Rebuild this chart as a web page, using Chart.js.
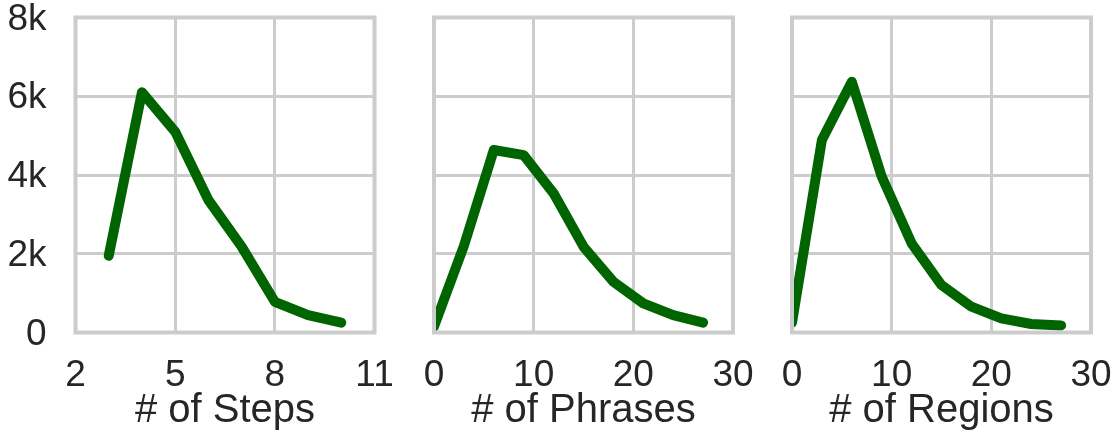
<!DOCTYPE html>
<html>
<head>
<meta charset="utf-8">
<script src="https://cdn.jsdelivr.net/npm/chart.js@4.4.1/dist/chart.umd.min.js"></script>
<style>
  html, body { margin: 0; padding: 0; background: #ffffff; }
  #wrap { position: relative; width: 1118px; height: 445px; overflow: hidden; }
  .panel { position: absolute; top: 0; height: 445px; }
</style>
</head>
<body>
<div id="wrap">
  <div class="panel" id="p1" style="left:0px;width:400px;"><canvas id="c1"></canvas></div>
  <div class="panel" id="p2" style="left:400px;width:360px;"><canvas id="c2"></canvas></div>
  <div class="panel" id="p3" style="left:760px;width:358px;"><canvas id="c3"></canvas></div>
</div>
<script>
// ---- data ----
const stepsX = [3, 4, 5, 6, 7, 8, 9, 10];
const stepsY = [1950, 6100, 5100, 3365, 2180, 780, 440, 250];

const phrasesX = [0, 3, 6, 9, 12, 15, 18, 21, 24, 27];
const phrasesY = [150, 2200, 4635, 4505, 3535, 2180, 1290, 740, 440, 250];

const regionsX = [0, 3, 6, 9, 12, 15, 18, 21, 24, 27];
const regionsY = [250, 4890, 6370, 3960, 2265, 1205, 655, 360, 215, 180];

const yTicks = [0, 2000, 4000, 6000, 8000];
const yTickLabels = ['0', '2k', '4k', '6k', '8k'];
const stepsTicks = [2, 5, 8, 11];
const countTicks = [0, 10, 20, 30];

const titles = ['# of Steps', '# of Phrases', '# of Regions'];

// ---- style ----
const GRID = '#cccccc';
const TEXT = '#262626';
const LINE = '#006400';
const FONT = "'Liberation Sans', Arial, sans-serif";

const framePlugin = {
  id: 'frame',
  afterDatasetsDraw(chart) {
    const a = chart.chartArea;
    const ctx = chart.ctx;
    ctx.save();
    ctx.strokeStyle = GRID;
    ctx.lineWidth = 4;
    ctx.strokeRect(a.left, a.top, a.right - a.left, a.bottom - a.top);
    ctx.restore();
  }
};

function zeroPad(s) {
  s.paddingLeft = 0; s.paddingRight = 0; s.paddingTop = 0; s.paddingBottom = 0;
}

function makeChart(canvasId, xs, ys, xMin, xMax, xTickVals, title, showY, padR, yWidth) {
  const pts = xs.map((x, i) => ({ x: x, y: ys[i] }));
  return new Chart(document.getElementById(canvasId), {
    type: 'line',
    data: {
      datasets: [{
        data: pts,
        borderColor: LINE,
        backgroundColor: LINE,
        borderWidth: 10,
        borderCapStyle: 'round',
        borderJoinStyle: 'round',
        pointRadius: 0,
        tension: 0,
        clip: 0
      }]
    },
    options: {
      responsive: true,
      maintainAspectRatio: false,
      animation: false,
      events: [],
      layout: { padding: { left: 0, right: padR, top: 17.5, bottom: 0 } },
      plugins: { legend: { display: false }, tooltip: { enabled: false } },
      scales: {
        x: {
          type: 'linear',
          min: xMin,
          max: xMax,
          afterBuildTicks: (s) => { s.ticks = xTickVals.map(v => ({ value: v })); },
          afterFit: (s) => { s.height = 112.5; zeroPad(s); },
          grid: { color: GRID, lineWidth: 3, drawTicks: false },
          border: { display: false },
          ticks: {
            color: TEXT,
            font: { family: FONT, size: 37, lineHeight: 1 },
            padding: 25,
            maxRotation: 0,
            autoSkip: false,
            callback: (v) => String(v)
          },
          title: {
            display: true,
            text: title,
            color: TEXT,
            font: { family: FONT, size: 40, lineHeight: 1 },
            padding: { top: 0, bottom: 14 }
          }
        },
        y: {
          type: 'linear',
          min: 0,
          max: 8000,
          afterBuildTicks: (s) => { s.ticks = yTicks.map(v => ({ value: v })); },
          afterFit: (s) => { s.width = yWidth; zeroPad(s); },
          grid: { color: GRID, lineWidth: 3, drawTicks: false },
          border: { display: false },
          ticks: {
            display: showY,
            color: TEXT,
            font: { family: FONT, size: 37, lineHeight: 1 },
            padding: 29,
            labelOffset: 2,
            callback: (v) => yTickLabels[yTicks.indexOf(v)]
          }
        }
      }
    },
    plugins: [framePlugin]
  });
}

makeChart('c1', stepsX, stepsY, 2, 11, stepsTicks, titles[0], true, 25.5, 75.5);
makeChart('c2', phrasesX, phrasesY, 0, 30, countTicks, titles[1], false, 27, 34);
makeChart('c3', regionsX, regionsY, 0, 30, countTicks, titles[2], false, 27, 32);
</script>
</body>
</html>
